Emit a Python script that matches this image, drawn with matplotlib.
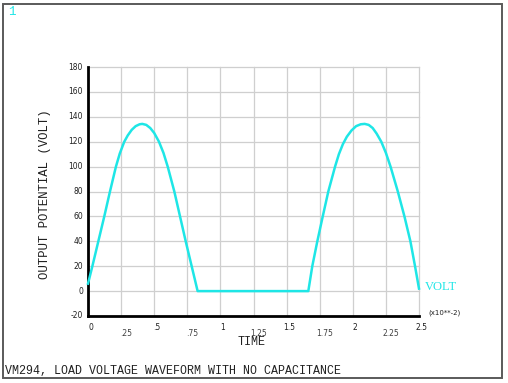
import matplotlib
matplotlib.use('Agg')
import matplotlib.pyplot as plt
import matplotlib.transforms as mtransforms
from matplotlib.patches import Rectangle

# ---- data (time in units of 1e-2 s, voltage in volts) ----
time_x = [0.0, 0.033, 0.078, 0.123, 0.166, 0.211, 0.24, 0.274, 0.30, 0.33, 0.36, 0.39,
          0.41, 0.44, 0.47, 0.50, 0.536, 0.57,
          0.602, 0.652, 0.695, 0.738, 0.783, 0.828,
          1.664, 1.694, 1.732, 1.773, 1.815, 1.866, 1.895, 1.925, 1.955, 1.99, 2.025, 2.06,
          2.09, 2.12, 2.15, 2.18, 2.215, 2.25,
          2.285, 2.34, 2.39, 2.435, 2.47, 2.5]
volt = [6, 20, 40, 60, 80, 100, 110.5, 120, 125, 129.5, 132.5, 134,
        134.3, 133.5, 131, 127, 120, 111,
        100, 80, 60, 40, 20, 0,
        0, 20, 40, 60, 80, 100, 110, 118, 124, 129, 132.5, 134,
        134.3, 133.5, 131, 126.5, 120, 111,
        100, 80, 60, 40, 20, 2]

xtick_vals = [0, 0.25, 0.5, 0.75, 1.0, 1.25, 1.5, 1.75, 2.0, 2.25, 2.5]
xtick_labels = ['0', '.25', '.5', '.75', '1', '1.25', '1.5', '1.75', '2', '2.25', '2.5']
ytick_vals = [-20, 0, 20, 40, 60, 80, 100, 120, 140, 160, 180]
ytick_labels = ['-20', '0', '20', '40', '60', '80', '100', '120', '140', '160', '180']

W, H = 508, 383
CYAN = '#1ee6e6'
fig = plt.figure(figsize=(W / 100, H / 100), dpi=100)
fig.patch.set_facecolor('white')

# outer frame
fig.add_artist(Rectangle((3 / W, 1 - 378 / H), (502 - 3) / W, (378 - 4) / H,
                         transform=fig.transFigure, fill=False,
                         edgecolor='#5a5a5a', lw=1.4))

ax = fig.add_axes([88 / W, 1 - 316 / H, (419 - 88) / W, (316 - 67) / H])
ax.set_xlim(0, 2.5)
ax.set_ylim(-20, 180)

# grid
for v in xtick_vals[1:]:
    ax.axvline(v, color='#cfcfcf', lw=0.9, zorder=0, clip_on=False)
for v in ytick_vals[1:]:
    ax.axhline(v, color='#cfcfcf', lw=0.9, zorder=0, clip_on=False)

ax.plot(time_x, volt, color=CYAN, lw=1.8, zorder=3, clip_on=False,
        solid_joinstyle='round')

for s in ['top', 'right']:
    ax.spines[s].set_visible(False)
for s in ['left', 'bottom']:
    ax.spines[s].set_color('black')
    ax.spines[s].set_linewidth(2.0)

ax.set_xticks(xtick_vals)
ax.set_xticklabels([])
ax.set_yticks(ytick_vals)
ax.set_yticklabels([])
ax.set_xticks(xtick_vals[1::2], minor=True)
ax.tick_params(which='major', length=0)
ax.tick_params(which='minor', axis='x', length=4, color='#bdbdbd', width=0.8, direction='out')

# x tick labels (staggered)
for i, (v, lab) in enumerate(zip(xtick_vals, xtick_labels)):
    if i % 2 == 0:
        tr = mtransforms.offset_copy(ax.get_xaxis_transform(), fig=fig, x=2.5, y=-11, units='dots')
        col = '#202020'
    else:
        tr = mtransforms.offset_copy(ax.get_xaxis_transform(), fig=fig, x=5, y=-17, units='dots')
        col = '#404040'
    ax.text(v, 0, lab, transform=tr, ha='center', va='center', fontsize=5.5,
            color=col, family='DejaVu Sans')

# y tick labels
for v, lab in zip(ytick_vals, ytick_labels):
    tr = mtransforms.offset_copy(ax.get_yaxis_transform(), fig=fig, x=-5, y=0, units='dots')
    ax.text(0, v, lab, transform=tr, ha='right', va='center', fontsize=5.5,
            color='#202020', family='DejaVu Sans')

# axis titles
fig.text(45 / W, 1 - 194 / H, 'OUTPUT POTENTIAL (VOLT)', rotation=90, ha='center', va='center',
         fontsize=8.9, family='Liberation Mono', color='#202020')
fig.text(252 / W, 1 - 342 / H, 'TIME', ha='center', va='center',
         fontsize=8.5, family='Liberation Mono', color='#202020')

# legend label and multiplier
fig.text(425 / W, 1 - 287 / H, 'VOLT', ha='left', va='center',
         fontsize=9, family='Liberation Serif', color=CYAN)
fig.text(428 / W, 1 - 313 / H, '(x10**-2)', ha='left', va='center',
         fontsize=5, family='DejaVu Sans', color='#202020')

# window number
fig.text(8 / W, 1 - 12 / H, '1', ha='left', va='center',
         fontsize=9, family='Liberation Mono', color=CYAN)

# bottom title
fig.text(5 / W, 1 - 371 / H, 'VM294, LOAD VOLTAGE WAVEFORM WITH NO CAPACITANCE', ha='left', va='center',
         fontsize=8.4, family='Liberation Mono', color='#202020')

fig.savefig('out.png', dpi=100, facecolor='white')
